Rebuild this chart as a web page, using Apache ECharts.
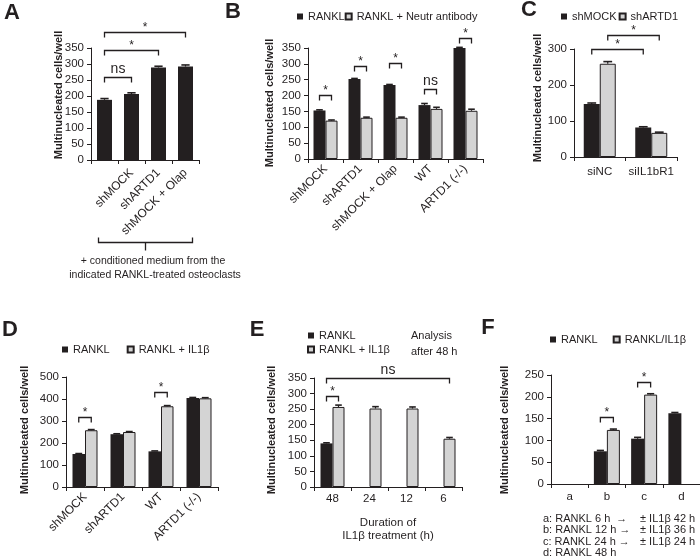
<!DOCTYPE html>
<html><head><meta charset="utf-8">
<script src="https://cdn.jsdelivr.net/npm/echarts@6/dist/echarts.min.js"></script>
<style>html,body{margin:0;padding:0;background:#fff}#c{width:700px;height:560px}</style>
</head><body><div id="c"></div>
<script>
const INK = '#231f20';
const GRAY = '#d4d4d4';
const FONT = 'Arial, "Liberation Sans", sans-serif';

// ---- Panel A ----
const catsA = ['', 'shMOCK', 'shARTD1', 'shMOCK + Olap'];
const valsA = [188, 206, 289, 292];
const errA = [4, 4, 4, 5];
// [fromCat, fromSide, toCat, toSide, yValue, text]
const bracketsA = [[0, 0, 1, 0, 259, 'ns'], [0, 0, 2, 0, 344, '*'], [0, 0, 3, 0, 400, '*']];

// ---- Panel B ----
const catsB = ['shMOCK', 'shARTD1', 'shMOCK + Olap', 'WT', 'ARTD1 (-/-)'];
const rankB = [153, 252, 233, 170, 350];
const rankErrB = [2, 2, 2, 5, 2];
const neutB = [121, 130, 130, 158, 152];
const neutErrB = [2, 2, 2, 5, 5];
const bracketsB = [[0, -1, 0, 1, 202, '*'], [1, -1, 1, 1, 293, '*'], [2, -1, 2, 1, 303, '*'], [3, -1, 3, 1, 221, 'ns'], [4, -1, 4, 1, 381, '*']];

// ---- Panel C ----
const catsC = ['siNC', 'siIL1bR1'];
const mockC = [147, 82];
const mockErrC = [3, 2];
const artdC = [259, 67];
const artdErrC = [6, 2];
const bracketsC = [[0, -1, 1, -1, 300, '*'], [0, 1, 1, 1, 339, '*']];

// ---- Panel D ----
const catsD = ['shMOCK', 'shARTD1', 'WT', 'ARTD1 (-/-)'];
const rankD = [150, 240, 162, 405];
const rankErrD = [2, 2, 2, 2];
const il1D = [258, 250, 367, 403];
const il1ErrD = [3, 2, 3, 3];
const bracketsD = [[0, -1, 0, 1, 318, '*'], [2, -1, 2, 1, 432, '*']];

// ---- Panel E ----
const catsE = ['48', '24', '12', '6'];
const rankE = [140, null, null, null];
const rankErrE = [2, 0, 0, 0];
const il1E = [257, 252, 252, 155];
const il1ErrE = [6, 6, 5, 4];
const bracketsE = [[0, -1, 3, 1, 350, 'ns'], [0, -1, 0, 1, 292, '*']];

// ---- Panel F ----
const catsF = ['a', 'b', 'c', 'd'];
const rankF = [null, 75, 104, 162];
const rankErrF = [0, 2, 3, 2];
const il1F = [null, 124, 205, null];
const il1ErrF = [0, 2, 2, 0];
const bracketsF = [[1, -1, 1, 1, 154, '*'], [2, -1, 2, 1, 234, '*']];

const panels = [
  { grid: { left: 91, top: 48, width: 108, height: 112 }, cats: catsA, max: 350, interval: 50, rotate: 45, barW: 15,
    series: [{ name: 'Conditioned medium', vals: valsA, errs: errA, gray: false }], brackets: bracketsA, labelMargin: 11, labelSize: 12 },
  { grid: { left: 308, top: 48, width: 175, height: 111 }, cats: catsB, max: 350, interval: 50, rotate: 45, barW: 12,
    series: [{ name: 'RANKL', vals: rankB, errs: rankErrB, gray: false }, { name: 'RANKL + Neutr antibody', vals: neutB, errs: neutErrB, gray: true }], brackets: bracketsB, labelSize: 12 },
  { grid: { left: 574, top: 49, width: 103, height: 108 }, cats: catsC, max: 300, interval: 100, rotate: 0, barW: 16,
    series: [{ name: 'shMOCK', vals: mockC, errs: mockErrC, gray: false }, { name: 'shARTD1', vals: artdC, errs: artdErrC, gray: true }], brackets: bracketsC, labelMargin: 9 },
  { grid: { left: 66, top: 377, width: 152, height: 110 }, cats: catsD, max: 500, interval: 100, rotate: 45, barW: 12.5,
    series: [{ name: 'RANKL', vals: rankD, errs: rankErrD, gray: false }, { name: 'RANKL + IL1\u03b2', vals: il1D, errs: il1ErrD, gray: true }], brackets: bracketsD, labelSize: 12 },
  { grid: { left: 314, top: 378, width: 148, height: 109 }, cats: catsE, max: 350, interval: 50, rotate: 0, barW: 12,
    series: [{ name: 'RANKL', vals: rankE, errs: rankErrE, gray: false }, { name: 'RANKL + IL1\u03b2', vals: il1E, errs: il1ErrE, gray: true }], brackets: bracketsE, labelMargin: 6 },
  { grid: { left: 551, top: 375, width: 152, height: 109 }, cats: catsF, max: 250, interval: 50, rotate: 0, barW: 13,
    series: [{ name: 'RANKL', vals: rankF, errs: rankErrF, gray: false }, { name: 'RANKL/IL1\u03b2', vals: il1F, errs: il1ErrF, gray: true }], brackets: bracketsF, labelMargin: 7 }
];

function errRender(barW) {
  return function (params, api) {
    const cat = api.value(0), v = api.value(1), e = api.value(2), s = api.value(3);
    const p0 = api.coord([cat, v]);
    const p1 = api.coord([cat, v + e]);
    const x = p0[0] + s * barW / 2;
    const cw = barW * 0.55;
    return { type: 'group', children: [
      { type: 'line', shape: { x1: x, y1: p0[1], x2: x, y2: p1[1] }, style: { stroke: INK, lineWidth: 1.2 } },
      { type: 'line', shape: { x1: x - cw / 2, y1: p1[1], x2: x + cw / 2, y2: p1[1] }, style: { stroke: INK, lineWidth: 1.6 } }
    ] };
  };
}

function bracketRender(list, barW) {
  return function (params, api) {
    const b = list[params.dataIndex];
    const p1 = api.coord([b[0], b[4]]);
    const p2 = api.coord([b[2], b[4]]);
    const x1 = p1[0] + b[1] * barW / 2, x2 = p2[0] + b[3] * barW / 2, y = Math.round(p1[1]) + 0.5;
    const ns = b[5] === 'ns';
    return { type: 'group', children: [
      { type: 'polyline', shape: { points: [[x1, y + 5], [x1, y], [x2, y], [x2, y + 5]] }, style: { stroke: INK, lineWidth: 1.3, fill: null } },
      { type: 'text', x: (x1 + x2) / 2, y: y - (ns ? 8 : 5), style: { text: b[5], fill: INK, fontSize: ns ? 14 : 12, fontFamily: FONT, align: 'center', verticalAlign: 'middle' } }
    ] };
  };
}

const grids = [], xAxes = [], yAxes = [], series = [];
panels.forEach((p, i) => {
  grids.push(Object.assign({ containLabel: false }, p.grid));
  xAxes.push({
    type: 'category', gridIndex: i, data: p.cats,
    axisLine: { show: true, lineStyle: { color: INK, width: 1 } },
    axisTick: { show: true, length: 4, lineStyle: { color: INK } },
    axisLabel: { interval: 0, rotate: p.rotate, color: INK, fontSize: p.labelSize || 11.5, fontFamily: FONT, margin: p.labelMargin || 8 },
    splitLine: { show: false }
  });
  yAxes.push({
    type: 'value', gridIndex: i, min: 0, max: p.max, interval: p.interval,
    axisLine: { show: true, lineStyle: { color: INK, width: 1 } },
    axisTick: { show: true, length: 4, lineStyle: { color: INK } },
    axisLabel: { color: INK, fontSize: 11.5, fontFamily: FONT, margin: 7 },
    splitLine: { show: false }
  });
  const n = p.series.length;
  const errData = [];
  p.series.forEach((s, k) => {
    const side = n === 1 ? 0 : (k === 0 ? -1 : 1);
    series.push({
      type: 'bar', name: s.name, xAxisIndex: i, yAxisIndex: i, data: s.vals,
      barWidth: p.barW, barGap: '0%', silent: true,
      itemStyle: s.gray ? { color: GRAY, borderColor: INK, borderWidth: 1 } : { color: INK, borderColor: INK, borderWidth: 0 }
    });
    s.vals.forEach((v, j) => { if (v != null) errData.push([j, v, s.errs[j], side]); });
  });
  series.push({
    type: 'custom', name: 'err' + i, xAxisIndex: i, yAxisIndex: i, data: errData, silent: true, z: 3,
    encode: { x: 0, y: 1 }, renderItem: errRender(p.barW)
  });
  series.push({
    type: 'custom', name: 'sig' + i, xAxisIndex: i, yAxisIndex: i, silent: true, z: 3, clip: false,
    data: p.brackets.map(b => [b[0], b[4], b[2]]),
    encode: { x: [0, 2], y: 1 }, renderItem: bracketRender(p.brackets, p.barW)
  });
});

const legendBase = { padding: 0, itemWidth: 6, itemHeight: 6, icon: 'rect', selectedMode: false,
  textStyle: { fontSize: 11, color: INK, fontFamily: FONT } };
const legends = [
  Object.assign({}, legendBase, { left: 297, top: 11, itemGap: 0, data: ['RANKL', 'RANKL + Neutr antibody'] }),
  Object.assign({}, legendBase, { left: 561, top: 11, itemGap: 2, data: ['shMOCK', 'shARTD1'] }),
  Object.assign({}, legendBase, { left: 62, top: 344, itemGap: 17, data: ['RANKL', 'RANKL + IL1\u03b2'] }),
  Object.assign({}, legendBase, { left: 307, top: 330, orient: 'vertical', itemGap: 3, data: ['RANKL', 'RANKL + IL1\u03b2'] }),
  Object.assign({}, legendBase, { left: 550, top: 334, itemGap: 15, data: ['RANKL', 'RANKL/IL1\u03b2'] })
];

const chart = echarts.init(document.getElementById('c'), null, { renderer: 'canvas' });
chart.setOption({
  animation: false, backgroundColor: '#fff',
  textStyle: { fontFamily: FONT },
  grid: grids, xAxis: xAxes, yAxis: yAxes, series: series, legend: legends
});

// ---- graphic annotations ----
const g = [];
function txt(x, y, text, o) {
  g.push({ type: 'text', x: x, y: y, silent: true, rotation: (o && o.rot) || 0,
    style: Object.assign({ text: text, fill: INK, fontFamily: FONT, fontSize: 11, align: 'left', verticalAlign: 'middle' }, o && o.style) });
}
// panel letters
[['A', 12, 13], ['B', 233, 12], ['C', 529, 10], ['D', 10, 330], ['E', 257, 330], ['F', 488, 328]].forEach(l =>
  txt(l[1], l[2], l[0], { style: { fontSize: 22, fontWeight: 'bold', align: 'center' } }));
// y-axis names
[[59, 95], [270, 103], [538, 98], [25, 430], [272, 430], [505, 430]].forEach(p =>
  txt(p[0], p[1], 'Multinucleated cells/well', { rot: Math.PI / 2, style: { fontSize: 11, fontWeight: 'bold', align: 'center' } }));

// panel A bottom bracket (from the category positions)
const a0 = chart.convertToPixel({ xAxisIndex: 0, yAxisIndex: 0 }, [0, 0]);
const a3 = chart.convertToPixel({ xAxisIndex: 0, yAxisIndex: 0 }, [3, 0]);
const bx1 = a0[0] - 6, bx2 = a3[0] + 7, by = 242.5, bmid = (bx1 + bx2) / 2;
g.push({ type: 'polyline', silent: true, shape: { points: [[bx1, by - 5], [bx1, by], [bx2, by], [bx2, by - 5]] }, style: { stroke: INK, lineWidth: 1.3, fill: null } });
g.push({ type: 'line', silent: true, shape: { x1: bmid, y1: by, x2: bmid, y2: by + 8 }, style: { stroke: INK, lineWidth: 1.3 } });
txt(153, 261, '+ conditioned medium from the', { style: { fontSize: 10.5, align: 'center' } });
txt(155, 275, 'indicated RANKL-treated osteoclasts', { style: { fontSize: 10.5, align: 'center' } });

// panel E texts
txt(411, 336, 'Analysis', { style: { fontSize: 11 } });
txt(411, 352, 'after 48 h', { style: { fontSize: 11 } });
txt(388, 523, 'Duration of', { style: { fontSize: 11.5, align: 'center' } });
txt(388, 536, 'IL1\u03b2 treatment (h)', { style: { fontSize: 11.5, align: 'center' } });

// panel F footnotes
const fLines = [['a: RANKL 6 h  \u2192', '\u00b1 IL1\u03b2 42 h'], ['b: RANKL 12 h \u2192', '\u00b1 IL1\u03b2 36 h'], ['c: RANKL 24 h \u2192', '\u00b1 IL1\u03b2 24 h'], ['d: RANKL 48 h', '']];
fLines.forEach((l, k) => {
  const y = 519 + k * 11.3;
  txt(543, y, l[0], { style: { fontSize: 11 } });
  if (l[1]) txt(640, y, l[1], { style: { fontSize: 11 } });
});

chart.setOption({ graphic: g });
</script></body></html>
